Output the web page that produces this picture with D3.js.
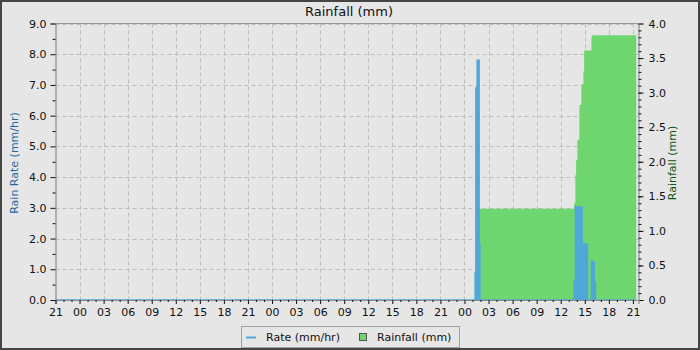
<!DOCTYPE html>
<html>
<head>
<meta charset="utf-8">
<script src="https://cdn.jsdelivr.net/npm/d3@7"></script>
<style>
  body { margin: 0; background: #e6e6e6; }
  text { font-family: "DejaVu Sans", sans-serif; }
</style>
</head>
<body>
<svg id="chart"></svg>
<script>

// Hours since the first 21:00 on the left edge of the chart
var rateTimes = [0, 52.33, 52.42, 52.58, 52.83, 52.92, 64.67, 64.83, 65.67, 66.33, 66.83, 67.17, 67.33, 72.42];
// Rain rate in mm/hr, held until the next time (step)
var rateValues = [0, 0.88, 6.9, 7.8, 1.83, 0, 0.6, 3.03, 1.82, 0, 1.25, 0.58, 0, 0];

var rainTimes = [0, 52.42, 52.83, 64.67, 64.83, 64.92, 65.08, 65.33, 65.58, 65.83, 65.92, 66.83, 66.92, 72.42];
// Cumulative rainfall in mm
var rainValues = [0, 0.4, 1.32, 1.40, 1.81, 2.03, 2.32, 2.82, 3.12, 3.31, 3.61, 3.81, 3.83, 3.83];

var xTicks = d3.range(0, 73, 3);
var xLabels = ["21", "00", "03", "06", "09", "12", "15", "18",
               "21", "00", "03", "06", "09", "12", "15", "18",
               "21", "00", "03", "06", "09", "12", "15", "18", "21"];
var leftTicks = [0, 1, 2, 3, 4, 5, 6, 7, 8, 9];
var rightTicks = [0, 0.5, 1, 1.5, 2, 2.5, 3, 3.5, 4];

var width = 700;
var height = 350;
var plotLeft = 55.5, plotRight = 638.5, plotTop = 23.5, plotBottom = 300;

var rateData = rateTimes.map(function(t, i){ return {t: t, v: rateValues[i]}; });
var rainData = rainTimes.map(function(t, i){ return {t: t, v: rainValues[i]}; });

var svg = d3.select("#chart")
  .attr("width", width)
  .attr("height", height);

// background and outer border
svg.append("rect")
  .attr("width", width).attr("height", height)
  .attr("fill", "#e6e6e6")
  .attr("stroke", "#454545")
  .attr("stroke-width", 4);

var x = d3.scaleLinear().domain([0, 72.7]).range([plotLeft, plotRight]);
var yRate = d3.scaleLinear().domain([0, 9]).range([plotBottom, plotTop]);
var yRain = d3.scaleLinear().domain([0, 4]).range([plotBottom, plotTop]);

// Title
svg.append("text")
  .attr("x", 349).attr("y", 16)
  .attr("text-anchor", "middle")
  .style("font-size", "13px")
  .attr("fill", "#111")
  .text("Rainfall (mm)");

// grid lines
svg.append("g")
  .selectAll("line")
  .data(xTicks.slice(1))
  .enter().append("line")
  .attr("x1", function(d){ return Math.round(x(d)) + 0.5; })
  .attr("x2", function(d){ return Math.round(x(d)) + 0.5; })
  .attr("y1", plotTop).attr("y2", plotBottom)
  .attr("stroke", "#bdbdbd")
  .attr("stroke-dasharray", "4,3");

svg.append("g")
  .selectAll("line")
  .data(leftTicks.slice(1))
  .enter().append("line")
  .attr("x1", plotLeft).attr("x2", plotRight)
  .attr("y1", function(d){ return Math.round(yRate(d)) + 0.5; })
  .attr("y2", function(d){ return Math.round(yRate(d)) + 0.5; })
  .attr("stroke", "#bdbdbd")
  .attr("stroke-dasharray", "4,3");

svg.append("clipPath").attr("id", "plotClip")
  .append("rect")
  .attr("x", plotLeft).attr("y", plotTop)
  .attr("width", plotRight - plotLeft).attr("height", plotBottom - plotTop + 1);

var plot = svg.append("g").attr("clip-path", "url(#plotClip)");

// Rainfall area (green)
var rainArea = d3.area()
  .curve(d3.curveStepAfter)
  .x(function(d){ return x(d.t); })
  .y0(yRain(0))
  .y1(function(d){ return yRain(d.v); });

plot.append("path")
  .datum(rainData)
  .attr("fill", "#6fd66f")
  .attr("d", rainArea);

// Rain rate (blue)
var rateArea = d3.area()
  .curve(d3.curveStepAfter)
  .x(function(d){ return x(d.t); })
  .y0(yRate(0))
  .y1(function(d){ return yRate(d.v); });

var rateLine = d3.line()
  .curve(d3.curveStepAfter)
  .x(function(d){ return x(d.t); })
  .y(function(d){ return yRate(d.v); });

plot.append("path")
  .datum(rateData)
  .attr("fill", "#4ea8d8")
  .attr("d", rateArea);

plot.append("path")
  .datum(rateData)
  .attr("fill", "none")
  .attr("stroke", "#4ea8d8")
  .attr("stroke-width", 1.5)
  .attr("d", rateLine);

// plot frame top line
svg.append("line")
  .attr("x1", plotLeft).attr("x2", plotRight)
  .attr("y1", plotTop).attr("y2", plotTop)
  .attr("stroke", "#999");

// Left axis
svg.append("g")
  .attr("transform", "translate(" + plotLeft + ",0)")
  .call(d3.axisLeft(yRate).tickValues(leftTicks).tickSize(5).tickPadding(4)
    .tickFormat(d3.format(".1f")));
svg.append("g")
  .attr("transform", "translate(" + plotLeft + ",0)")
  .call(d3.axisLeft(yRate).tickValues(d3.range(0.5, 9, 1)).tickSize(3).tickFormat(""))
  .call(function(g){ g.select(".domain").remove(); });

// Right axis
svg.append("g")
  .attr("transform", "translate(" + plotRight + ",0)")
  .call(d3.axisRight(yRain).tickValues(rightTicks).tickSize(5).tickPadding(5)
    .tickFormat(d3.format(".1f")));
svg.append("g")
  .attr("transform", "translate(" + plotRight + ",0)")
  .call(d3.axisRight(yRain).tickValues(d3.range(0.1, 4, 0.1)).tickSize(3).tickFormat(""))
  .call(function(g){ g.select(".domain").remove(); });

// Bottom axis
svg.append("g")
  .attr("transform", "translate(0," + plotBottom + ")")
  .call(d3.axisBottom(x).tickValues(xTicks).tickSize(4).tickPadding(4)
    .tickFormat(function(d, i){ return xLabels[i]; }));
svg.append("g")
  .attr("transform", "translate(0," + plotBottom + ")")
  .call(d3.axisBottom(x).tickValues(d3.range(1, 73, 1).filter(function(d){ return d % 3 != 0; }))
    .tickSize(2).tickFormat(""))
  .call(function(g){ g.select(".domain").remove(); });

// Axis styling
svg.selectAll(".domain")
  .attr("stroke", "#8c8c8c")
  .attr("stroke-width", 1.2);
svg.selectAll(".tick line").attr("stroke", "#111");
svg.selectAll(".tick text")
  .style("font-size", "11px")
  .style("font-family", "DejaVu Sans")
  .attr("fill", "#111");

// Axis titles
svg.append("text")
  .attr("transform", "translate(18,163) rotate(-90)")
  .attr("text-anchor", "middle")
  .style("font-size", "11px")
  .attr("fill", "#1d6b9c")
  .text("Rain Rate (mm/hr)");

svg.append("text")
  .attr("transform", "translate(676,163) rotate(-90)")
  .attr("text-anchor", "middle")
  .style("font-size", "11px")
  .attr("fill", "#125612")
  .text("Rainfall (mm)");

// Legend
var legend = svg.append("g");
legend.append("rect")
  .attr("x", 241.5).attr("y", 326.5)
  .attr("width", 218).attr("height", 21)
  .attr("fill", "#e6e6e6")
  .attr("stroke", "#a0a0a0");
legend.append("line")
  .attr("x1", 246).attr("x2", 256)
  .attr("y1", 337.5).attr("y2", 337.5)
  .attr("stroke", "#4ea8d8")
  .attr("stroke-width", 2);
legend.append("text")
  .attr("x", 266).attr("y", 341)
  .style("font-size", "11px")
  .attr("fill", "#111")
  .text("Rate (mm/hr)");
legend.append("rect")
  .attr("x", 359.5).attr("y", 333.5)
  .attr("width", 7).attr("height", 7)
  .attr("fill", "#6fd66f")
  .attr("stroke", "#555");
legend.append("text")
  .attr("x", 377).attr("y", 341)
  .style("font-size", "11px")
  .attr("fill", "#111")
  .text("Rainfall (mm)");

</script>
</body>
</html>
